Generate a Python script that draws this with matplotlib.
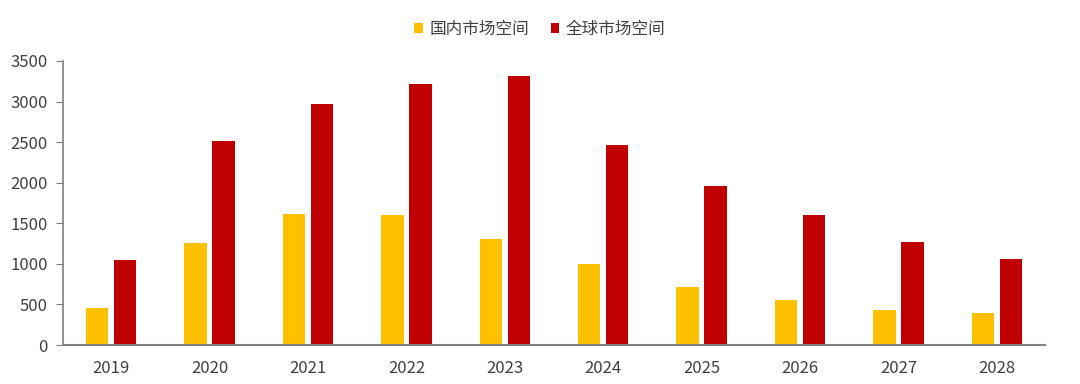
import matplotlib
matplotlib.use("Agg")
import matplotlib.pyplot as plt
import numpy as np

plt.rcParams['font.family'] = ['Noto Sans CJK SC', 'DejaVu Sans']

years = ['2019', '2020', '2021', '2022', '2023', '2024', '2025', '2026', '2027', '2028']
domestic = [450, 1260, 1620, 1600, 1310, 1000, 710, 560, 430, 395]
global_ = [1050, 2510, 2970, 3220, 3310, 2470, 1960, 1600, 1270, 1065]
series_names = ['国内市场空间', '全球市场空间']
yticks = [0, 500, 1000, 1500, 2000, 2500, 3000, 3500]

fig = plt.figure(figsize=(10.8, 3.84), dpi=100)
ax = fig.add_axes([63/1080, 1-345/384, (1045-63)/1080, (345-61)/384])

x = np.arange(len(years))
w = 0.228
off = 0.142
ax.bar(x - off, domestic, width=w, color='#FFC000', label=series_names[0], zorder=2)
ax.bar(x + off, global_, width=w, color='#C00000', label=series_names[1], zorder=2)

ax.set_xlim(-0.49, len(years) - 0.51)
ax.set_ylim(0, 3500)
ax.set_yticks(yticks)
ax.set_xticks(x)
ax.set_xticklabels(years)
for s in ['top', 'right']:
    ax.spines[s].set_visible(False)
ax.spines['left'].set_color('#808080')
ax.spines['bottom'].set_color('#808080')
ax.spines['left'].set_linewidth(1.2)
ax.spines['bottom'].set_linewidth(1.5)
ax.tick_params(axis='y', direction='out', length=5, color='#808080', labelsize=12, labelcolor='#404040', pad=6)
ax.tick_params(axis='x', length=0, labelsize=12, labelcolor='#404040', pad=11)

leg = fig.legend(loc='upper center', bbox_to_anchor=(0.5, 0.985), ncol=2, frameon=False,
                 fontsize=12, handlelength=0.5, handleheight=0.5, handletextpad=0.4,
                 columnspacing=1.3)
for t in leg.get_texts():
    t.set_color('#404040')

fig.savefig('out.png', dpi=100)
